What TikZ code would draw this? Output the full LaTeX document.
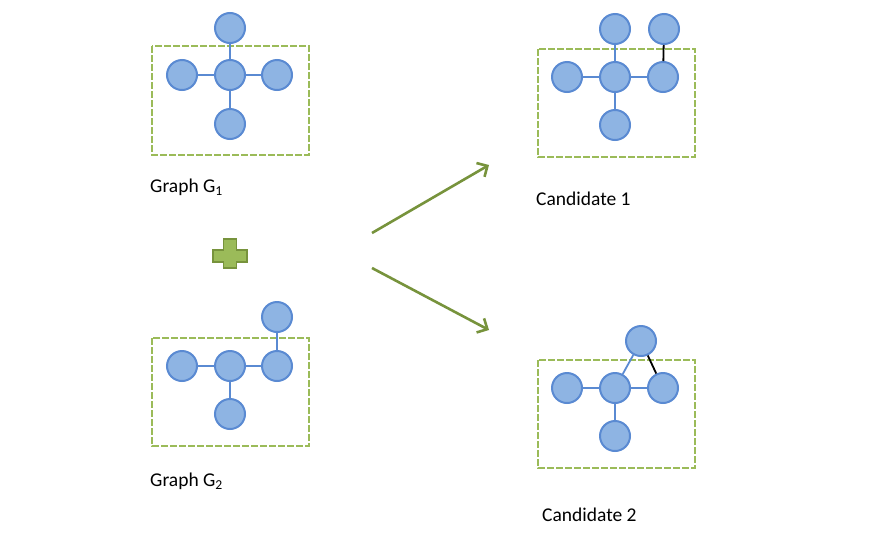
\documentclass[tikz,border=0pt]{standalone}
\usepackage{fontspec}
\setmainfont{Carlito}
\usetikzlibrary{arrows.meta}
\definecolor{nodeFill}{HTML}{8EB4E3}
\definecolor{nodeLine}{HTML}{5A8AD2}
\definecolor{boxGreen}{HTML}{9BBB59}
\definecolor{arrowGreen}{HTML}{77933C}
\begin{document}
\begin{tikzpicture}[x=1pt, y=-1pt]
            \tikzstyle{nodeStyle} = [circle,draw=nodeLine,fill=nodeFill,line width=2pt,minimum size=30pt,inner sep=0pt]
            \tikzstyle{blueEdge} = [draw=nodeLine, line width=1.8pt]
            \tikzstyle{blackEdge} = [draw=black, line width=1.8pt]
            \tikzstyle{boxStyle} = [draw=boxGreen, line width=1.4pt, dash pattern=on 7pt off 2pt]
            \tikzstyle{labelStyle} = [anchor=west, inner sep=0pt, font=\fontsize{19.5}{22}\selectfont]
            \tikzstyle{arrowStyle} = [draw=arrowGreen, line width=2.6pt, -{Straight Barb[length=8pt,width=16pt]}]
            \useasboundingbox (0,0) rectangle (882,536);
            % graph G1
            \draw[boxStyle] (152,46) rectangle (309,155);
            \node[nodeStyle] (a1) at (230,75)  {};
            \node[nodeStyle] (a2) at (182,75)  {};
            \node[nodeStyle] (a3) at (277,75)  {};
            \node[nodeStyle] (a4) at (230,28)  {};
            \node[nodeStyle] (a5) at (230,124) {};
            \foreach \to in {a2,a3,a4,a5}
                \path[blueEdge] (a1) edge (\to);
            \node[labelStyle] (la) at (150,187) {Graph G\textsubscript{1}};
            % graph G2
            \draw[boxStyle] (152,338) rectangle (309,446);
            \node[nodeStyle] (b1) at (230,366) {};
            \node[nodeStyle] (b2) at (182,366) {};
            \node[nodeStyle] (b3) at (277,366) {};
            \node[nodeStyle] (b4) at (277,317) {};
            \node[nodeStyle] (b5) at (230,414) {};
            \foreach \from/\to in {b1/b2,b1/b3,b1/b5,b3/b4}
                \path[blueEdge] (\from) edge (\to);
            \node[labelStyle] (lb) at (150,481) {Graph G\textsubscript{2}};
            % candidate 1
            \draw[boxStyle] (538,49) rectangle (695,157);
            \node[nodeStyle] (c1) at (615,77)  {};
            \node[nodeStyle] (c2) at (567,77)  {};
            \node[nodeStyle] (c3) at (663,77)  {};
            \node[nodeStyle] (c4) at (615,29)  {};
            \node[nodeStyle] (c5) at (615,125) {};
            \node[nodeStyle] (c6) at (664,29)  {};
            \foreach \to in {c2,c3,c4,c5}
                \path[blueEdge] (c1) edge (\to);
            \path[blackEdge] (c3) edge (c6);
            \node[labelStyle] (lc) at (536,199) {Candidate 1};
            % candidate 2
            \draw[boxStyle] (538,360) rectangle (695,468);
            \node[nodeStyle] (d1) at (615,388) {};
            \node[nodeStyle] (d2) at (567,388) {};
            \node[nodeStyle] (d3) at (663,388) {};
            \node[nodeStyle] (d4) at (641,341) {};
            \node[nodeStyle] (d5) at (615,436) {};
            \foreach \to in {d2,d3,d4,d5}
                \path[blueEdge] (d1) edge (\to);
            \path[blackEdge] (d3) edge (d4);
            \node[labelStyle] (ld) at (542,515) {Candidate 2};
            % plus sign
            \filldraw[fill=boxGreen, draw=arrowGreen, line width=1.2pt]
                (223.5,239) -- (236.5,239) -- (236.5,250) -- (247,250) -- (247,262)
                -- (236.5,262) -- (236.5,268) -- (223.5,268) -- (223.5,262) -- (213,262)
                -- (213,250) -- (223.5,250) -- cycle;
            % arrows
            \coordinate (s1) at (372,233);
            \coordinate (e1) at (489,165);
            \coordinate (s2) at (372,268);
            \coordinate (e2) at (489,330);
            \draw[arrowStyle] (s1) -- (e1);
            \draw[arrowStyle] (s2) -- (e2);
\end{tikzpicture}
\end{document}
